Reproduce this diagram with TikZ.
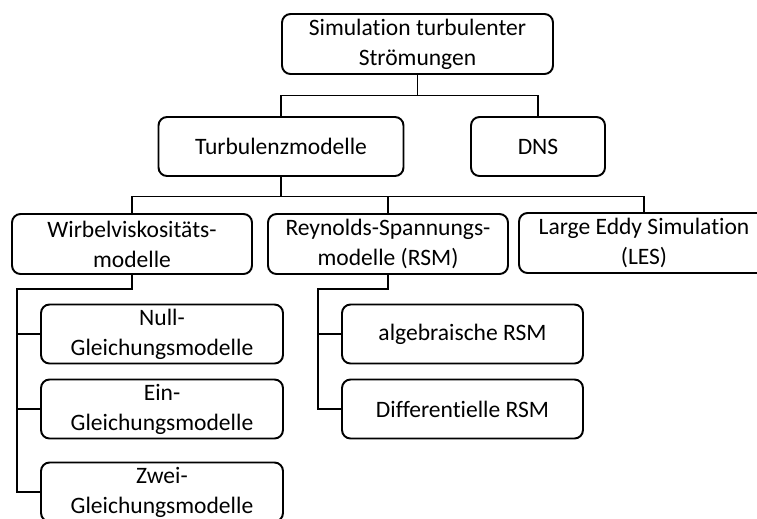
\documentclass[tikz,border=0pt]{standalone}
\usepackage{fontspec}
\setmainfont{Carlito}[RawFeature={-liga;-dlig}]
\usepackage{tikz}

\tikzset{
  modell/.style={draw, line width=1.1pt, rounded corners=0.17cm, align=center,
    font=\fontsize{13.4}{17}\selectfont, minimum height=1.2cm, inner sep=2pt},
  linie/.style={line width=0.6pt}
}

\begin{document}
\begin{tikzpicture}[x=0.02cm,y=-0.02cm]
   \useasboundingbox (0,0) rectangle (757,518);

   \node[modell, minimum width=5.42cm] (sim) at (417.5,44) {Simulation turbulenter\\Strömungen};
   \node[modell, minimum width=4.9cm, minimum height=1.18cm] (turb) at (281,146.5) {Turbulenzmodelle};
   \node[modell, minimum width=2.68cm, minimum height=1.18cm] (dns) at (538,146.5) {DNS};

   \node[modell, minimum width=4.8cm] (wirbel) at (132,244) {Wirbelviskositäts-\\modelle};
   \node[modell, minimum width=4.8cm] (rsm) at (388,244) {Reynolds-Spannungs-\\modelle (RSM)};
   \node[modell, minimum width=5.0cm] (les) at (644,243) {Large Eddy Simulation\\(LES)};

   \node[modell, minimum width=4.84cm, minimum height=1.18cm] (null) at (162,334) {Null-\\Gleichungsmodelle};
   \node[modell, minimum width=4.84cm, minimum height=1.18cm] (ein) at (162,409) {Ein-\\Gleichungsmodelle};
   \node[modell, minimum width=4.84cm, minimum height=1.18cm] (zwei) at (162,492) {Zwei-\\Gleichungsmodelle};

   \node[modell, minimum width=4.82cm, minimum height=1.18cm] (alg) at (462.5,334) {algebraische RSM};
   \node[modell, minimum width=4.82cm, minimum height=1.18cm] (diff) at (462.5,409) {Differentielle RSM};

   % Verbindungen
   \draw[linie] (sim.south) -- ++(0,21) -| (turb.north);
   \draw[linie] (sim.south) -- ++(0,21) -| (dns.north);

   \draw[linie] (turb.south) -- ++(0,20) -| (wirbel.north);
   \draw[linie] (turb.south) -- ++(0,20) -| (rsm.north);
   \draw[linie] (turb.south) -- ++(0,20) -| (les.north);

   \coordinate (wbus) at (17,289);
   \draw[linie] (wirbel.south) |- (wbus) |- (null.west);
   \draw[linie] (wbus) |- (ein.west);
   \draw[linie] (wbus) |- (zwei.west);

   \coordinate (rbus) at (318,289);
   \draw[linie] (rsm.south) |- (rbus) |- (alg.west);
   \draw[linie] (rbus) |- (diff.west);
\end{tikzpicture}
\end{document}
